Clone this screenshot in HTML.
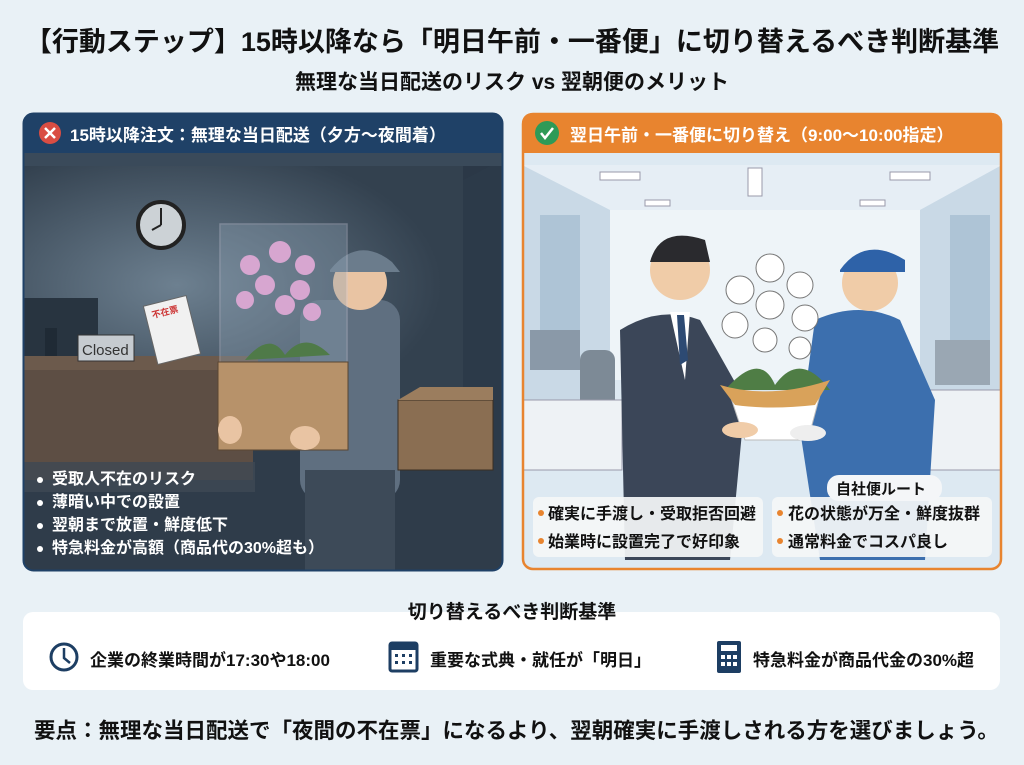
<!DOCTYPE html>
<html><head><meta charset="utf-8"><style>
*{margin:0;padding:0;box-sizing:border-box}
body{width:1024px;height:765px;background:#e9f1f6;font-family:"Liberation Sans","Noto Sans CJK JP",sans-serif;position:relative;overflow:hidden;color:#111}
.t{position:absolute;white-space:nowrap;font-weight:bold}
</style></head><body>
<div class="t" style="left:0;width:1024px;text-align:center;top:20px;font-size:27px;letter-spacing:0px">【行動ステップ】15時以降なら「明日午前・一番便」に切り替えるべき判断基準</div>
<div class="t" style="left:0;width:1024px;text-align:center;top:66px;font-size:21px">無理な当日配送のリスク vs 翌朝便のメリット</div>

<svg style="position:absolute;left:0;top:0" width="1024" height="765">
<defs><clipPath id="cl"><rect x="23" y="113" width="479" height="457" rx="10"/></clipPath>
<clipPath id="cr"><rect x="522" y="113" width="480" height="457" rx="10"/></clipPath>
<radialGradient id="gl" cx="0.35" cy="0.5" r="0.6"><stop offset="0" stop-color="#6d8090"/><stop offset="1" stop-color="#33414f"/></radialGradient></defs>
<g clip-path="url(#cl)">
<rect x="23" y="113" width="479" height="457" fill="#2b3847"/>
<rect x="23" y="165" width="440" height="240" fill="url(#gl)"/>
<polygon points="463,180 502,160 502,440 463,455" fill="#2c3a49"/>
<rect x="23" y="152" width="479" height="14" fill="#3a4a5a"/>
<rect x="23" y="440" width="479" height="130" fill="#2f3c4a"/>
<rect x="23" y="356" width="235" height="14" fill="#6c5a4c"/>
<rect x="23" y="370" width="230" height="110" fill="#5d4e44"/>
<rect x="23" y="298" width="75" height="58" fill="#283440"/>
<rect x="45" y="328" width="12" height="28" fill="#1f2a35"/>
<rect x="78" y="335" width="56" height="26" fill="#c6cbd0" stroke="#333"/>
<text x="82" y="355" font-size="15" fill="#333" font-family="Liberation Sans">Closed</text>
<g transform="rotate(-14 172 330)"><rect x="150" y="300" width="44" height="60" fill="#f1f1f1" stroke="#666"/>
<text x="156" y="314" font-size="9" fill="#c33" font-weight="bold">不在票</text></g>
<circle cx="161" cy="225" r="23" fill="#ccd2d6" stroke="#222" stroke-width="4"/>
<line x1="161" y1="225" x2="161" y2="208" stroke="#222" stroke-width="2"/><line x1="161" y1="225" x2="152" y2="230" stroke="#222" stroke-width="2"/>
<rect x="300" y="300" width="100" height="200" rx="20" fill="#5f6f80"/>
<rect x="305" y="470" width="90" height="100" fill="#3d4a58"/>
<circle cx="360" cy="283" r="27" fill="#e9c4a3"/>
<path d="M330 270 Q358 235 392 262 L400 272 L330 272Z" fill="#6b7c8c"/>
<rect x="220" y="224" width="127" height="145" fill="#8fa3b5" opacity=".35" stroke="#ccd" stroke-width="1.5"/>
<g fill="#d7a6d0"><circle cx="250" cy="265" r="10"/><circle cx="280" cy="252" r="11"/><circle cx="305" cy="265" r="10"/><circle cx="265" cy="285" r="10"/><circle cx="300" cy="290" r="10"/><circle cx="245" cy="300" r="9"/><circle cx="285" cy="305" r="10"/><circle cx="312" cy="312" r="9"/></g>
<path d="M245 360 Q270 330 285 355 Q305 330 330 355 Z" fill="#4f7a48"/>
<rect x="218" y="362" width="130" height="88" fill="#b7926a" stroke="#5a4632"/>
<rect x="398" y="400" width="95" height="70" fill="#8a6e52" stroke="#3a2e22"/>
<polygon points="398,400 420,387 493,387 493,400" fill="#9b7d5e"/>
<ellipse cx="230" cy="430" rx="12" ry="14" fill="#e9c4a3"/><ellipse cx="305" cy="438" rx="15" ry="12" fill="#e9c4a3"/>
<rect x="23" y="462" width="232" height="30" fill="#3f4954" opacity=".8"/>
<rect x="23" y="113" width="479" height="40" fill="#1f4167"/>
</g>
<rect x="23.5" y="113.5" width="479" height="457" rx="10" fill="none" stroke="#1f4167" stroke-width="2"/>
<circle cx="50" cy="133" r="11" fill="#d94d43"/>
<path d="M45 128 L55 138 M55 128 L45 138" stroke="#fff" stroke-width="2.5"/>

<g clip-path="url(#cr)">
<rect x="522" y="113" width="480" height="457" fill="#dde9f2"/>
<polygon points="522,165 1002,165 920,210 610,210" fill="#e6eef5"/>
<rect x="610" y="210" width="310" height="170" fill="#eef4f8"/>
<polygon points="522,165 610,210 610,420 522,470" fill="#c9d9e6"/>
<polygon points="1002,165 920,210 920,420 1002,470" fill="#c9d9e6"/>
<rect x="540" y="215" width="40" height="150" fill="#aec4d6"/>
<rect x="950" y="215" width="40" height="150" fill="#aec4d6"/>
<g fill="#fff" stroke="#99a"><rect x="600" y="172" width="40" height="8"/><rect x="748" y="168" width="14" height="28"/><rect x="890" y="172" width="40" height="8"/><rect x="645" y="200" width="25" height="6"/><rect x="860" y="200" width="25" height="6"/></g>
<rect x="530" y="330" width="50" height="40" fill="#8a99a8"/><rect x="580" y="350" width="35" height="60" rx="10" fill="#7d8a96"/>
<rect x="935" y="340" width="55" height="45" fill="#9aa7b3"/>
<rect x="522" y="400" width="100" height="70" fill="#eef2f5" stroke="#99a"/>
<rect x="930" y="390" width="72" height="80" fill="#eef2f5" stroke="#99a"/>
<path d="M620 330 Q660 305 700 320 L745 400 L730 560 L625 560Z" fill="#3b4658"/>
<circle cx="680" cy="270" r="30" fill="#f0cca8"/>
<path d="M650 262 Q660 225 705 240 L710 262 Z" fill="#2a2a2e"/>
<polygon points="670,312 690,312 685,380" fill="#fff"/><polygon points="677,315 684,315 688,360 680,365" fill="#2d4a73"/>
<path d="M815 320 Q860 300 900 320 L935 400 L925 560 L820 560 L800 430Z" fill="#3c6fae"/>
<circle cx="870" cy="283" r="28" fill="#f0cca8"/>
<path d="M840 270 Q865 235 905 260 L905 272 L840 272Z" fill="#2e62a8"/>
<g fill="#fff" stroke="#777"><circle cx="770" cy="268" r="14"/><circle cx="740" cy="290" r="14"/><circle cx="800" cy="285" r="13"/><circle cx="770" cy="305" r="14"/><circle cx="735" cy="325" r="13"/><circle cx="805" cy="318" r="13"/><circle cx="765" cy="340" r="12"/><circle cx="800" cy="348" r="11"/></g>
<path d="M725 390 Q760 350 775 385 Q800 350 830 390Z" fill="#4f7d45"/>
<path d="M730 395 L820 395 L808 440 L745 440Z" fill="#fff" stroke="#bbb"/>
<path d="M720 385 Q770 400 830 380 L815 405 Q770 410 735 405Z" fill="#d9a25a"/>
<ellipse cx="740" cy="430" rx="18" ry="8" fill="#f0cca8"/><ellipse cx="808" cy="433" rx="18" ry="8" fill="#eee"/>
<rect x="522" y="113" width="480" height="40" fill="#e8842f"/>
</g>
<rect x="523" y="114" width="478" height="455" rx="10" fill="none" stroke="#e8842f" stroke-width="2.5"/>
<circle cx="547" cy="133" r="12" fill="#2e9a57"/>
<path d="M541 133 L545 138 L553 128" stroke="#fff" stroke-width="2.5" fill="none"/>
<rect x="533" y="497" width="230" height="60" rx="6" fill="#f4f6f8" opacity=".93"/>
<rect x="772" y="497" width="220" height="60" rx="6" fill="#f4f6f8" opacity=".93"/>
<rect x="827" y="475" width="115" height="26" rx="12" fill="#f4f6f8"/>
<g fill="#e8842f"><circle cx="541" cy="513" r="3"/><circle cx="541" cy="541" r="3"/><circle cx="780" cy="513" r="3"/><circle cx="780" cy="541" r="3"/></g>
<g fill="#fff"><circle cx="40" cy="480" r="3"/><circle cx="40" cy="503" r="3"/><circle cx="40" cy="526" r="3"/><circle cx="40" cy="549" r="3"/></g>

<rect x="23" y="612" width="977" height="78" rx="10" fill="#fff"/>
<circle cx="64" cy="657" r="13" fill="none" stroke="#1d3e63" stroke-width="3"/>
<path d="M64 648 L64 658 L70 663" stroke="#1d3e63" stroke-width="2.5" fill="none"/>
<rect x="390" y="643" width="27" height="28" rx="2" fill="#fff" stroke="#1d3e63" stroke-width="3"/>
<rect x="390" y="643" width="27" height="7" fill="#1d3e63"/>
<g fill="#1d3e63"><rect x="395" y="654" width="3" height="3"/><rect x="402" y="654" width="3" height="3"/><rect x="409" y="654" width="3" height="3"/><rect x="395" y="661" width="3" height="3"/><rect x="402" y="661" width="3" height="3"/><rect x="409" y="661" width="3" height="3"/></g>
<rect x="717" y="641" width="24" height="32" rx="2" fill="#1d3e63"/>
<rect x="721" y="645" width="16" height="6" fill="#fff"/>
<g fill="#fff"><rect x="721" y="655" width="4" height="4"/><rect x="727" y="655" width="4" height="4"/><rect x="733" y="655" width="4" height="4"/><rect x="721" y="662" width="4" height="4"/><rect x="727" y="662" width="4" height="4"/><rect x="733" y="662" width="4" height="4"/></g>
</svg>

<div class="t" style="left:70px;top:121px;font-size:17px;color:#fff">15時以降注文：無理な当日配送（夕方〜夜間着）</div>
<div class="t" style="left:570px;top:121px;font-size:17px;color:#fff">翌日午前・一番便に切り替え（9:00〜10:00指定）</div>
<div class="t" style="left:52px;top:468px;font-size:16px;color:#fff;line-height:23px;font-weight:bold">受取人不在のリスク<br>薄暗い中での設置<br>翌朝まで放置・鮮度低下<br>特急料金が高額（商品代の30%超も）</div>
<div class="t" style="left:548px;top:501px;font-size:16px;line-height:28px">確実に手渡し・受取拒否回避<br>始業時に設置完了で好印象</div>
<div class="t" style="left:788px;top:501px;font-size:16px;line-height:28px">花の状態が万全・鮮度抜群<br>通常料金でコスパ良し</div>
<div class="t" style="left:836px;top:478px;font-size:15px">自社便ルート</div>
<div class="t" style="left:0;width:1024px;text-align:center;top:597px;font-size:19px">切り替えるべき判断基準</div>
<div class="t" style="left:90px;top:646px;font-size:17px">企業の終業時間が17:30や18:00</div>
<div class="t" style="left:430px;top:646px;font-size:17px">重要な式典・就任が「明日」</div>
<div class="t" style="left:753px;top:646px;font-size:17px">特急料金が商品代金の30%超</div>
<div class="t" style="left:34px;top:714px;font-size:21.5px">要点：無理な当日配送で「夜間の不在票」になるより、翌朝確実に手渡しされる方を選びましょう。</div>
</body></html>
